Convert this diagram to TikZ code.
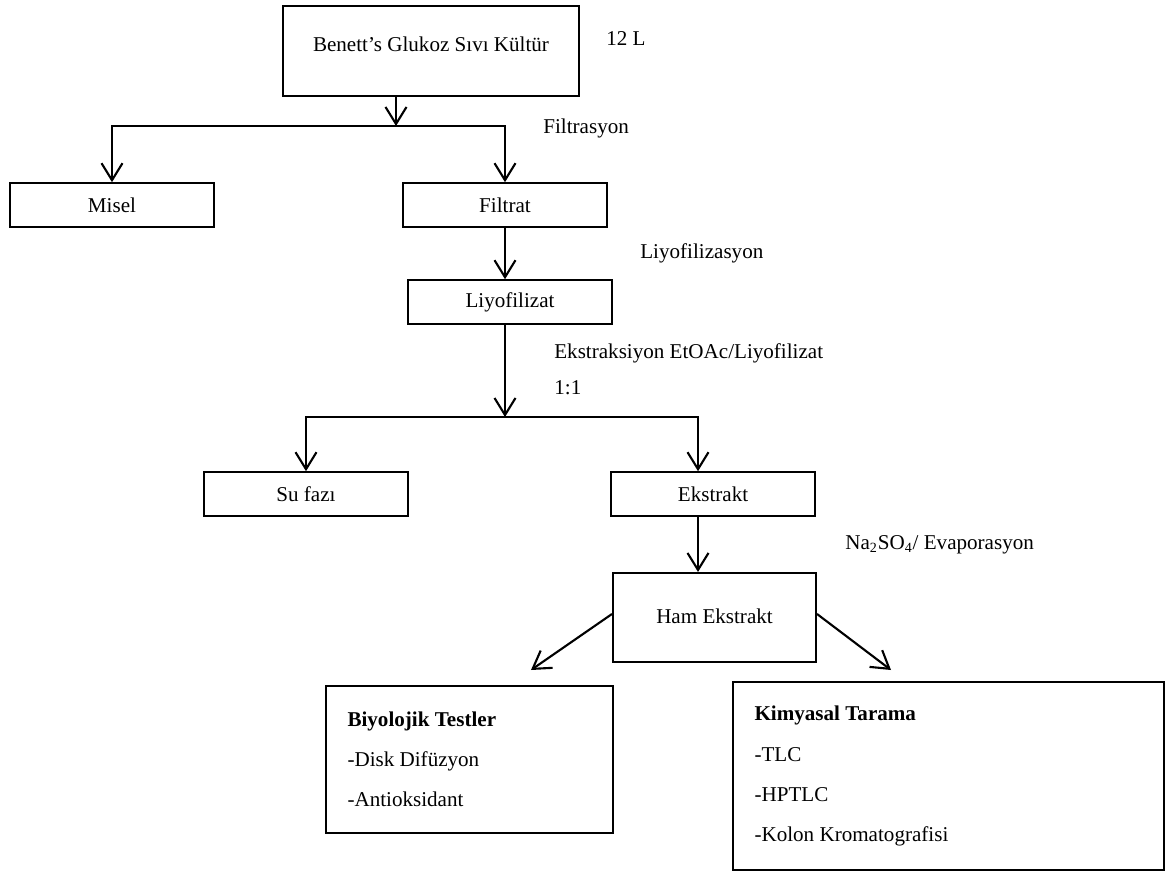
\documentclass[tikz,border=0pt]{standalone}
\usepackage{fontspec}
\setmainfont{Liberation Serif}
\usetikzlibrary{arrows.meta}

\begin{document}
\begin{tikzpicture}[x=0.02cm, y=-0.02cm,
  every node/.style={font=\fontsize{12}{14.4}\selectfont},
  box/.style={draw, line width=1.2pt, inner sep=0pt},
  lbl/.style={anchor=west, inner sep=0pt},
  list/.style={box, align=flush left, inner xsep=0.43cm, font=\fontsize{12}{22.8}\selectfont},
  arr/.style={line width=1.2pt, -{Straight Barb[length=0.34cm, width=0.42cm]}}]
\useasboundingbox (0,0) rectangle (1165,871);
\node[box, minimum width=5.92cm, minimum height=1.8cm] (kultur) at (431,51)
  {\raisebox{0.26cm}{Benett’s Glukoz Sıvı Kültür}};
\foreach \n/\x/\y/\t in {misel/112/205/Misel, filtrat/505/205/Filtrat,
    liyo/510/302/Liyofilizat, su/306/494/Su fazı, ekst/713/494/Ekstrakt}
  \node[box, minimum width=4.08cm, minimum height=0.87cm] (\n) at (\x,\y) {\t};
\node[box, minimum width=4.06cm, minimum height=1.78cm] (ham) at (714.5,617.5)
  {\raisebox{0.06cm}{Ham Ekstrakt}};
\node[list, text width=4.88cm, minimum height=2.94cm] (bio) at (469.5,759.5)
  {\textbf{Biyolojik Testler}\\-Disk Difüzyon\\-Antioksidant};
\node[list, text width=7.76cm, minimum height=3.76cm] (kim) at (948.5,776)
  {\textbf{Kimyasal Tarama}\\-TLC\\-HPTLC\\-Kolon Kromatografisi};

\node[lbl] (hacim) at (606,39) {12 L};
\node[lbl] (filtrasyon) at (543,128) {Filtrasyon};
\node[lbl] (liyofilizasyon) at (640,253) {Liyofilizasyon};
\node[lbl] (ekstraksiyon) at (554,353) {Ekstraksiyon EtOAc/Liyofilizat};
\node[lbl] (oran) at (554,388) {1:1};
\node[lbl] (kurutma) at (845,545) {Na\textsubscript{2}SO\textsubscript{4}/ Evaporasyon};

\coordinate (ayrim1) at (396,126);
\coordinate (ayrim2) at (505,417);
\coordinate (bioucu) at (531,670);
\coordinate (kimucu) at (891,670);

\draw[arr] (kultur.south -| ayrim1) -- (ayrim1);
\draw[arr] (ayrim1) -| (misel.north);
\draw[arr] (ayrim1) -| (filtrat.north);
\draw[arr] (filtrat.south) -- (filtrat.south |- liyo.north);
\draw[arr] (liyo.south -| ayrim2) -- (ayrim2);
\draw[arr] (ayrim2) -| (su.north);
\draw[arr] (ayrim2) -| ([xshift=-0.3cm]ekst.north);
\draw[arr] ([xshift=-0.3cm]ekst.south) -- ([xshift=-0.3cm]ekst.south |- ham.north);
\draw[arr] ([yshift=0.07cm]ham.west) -- (bioucu);
\draw[arr] ([yshift=0.07cm]ham.east) -- (kimucu);
\end{tikzpicture}
\end{document}
